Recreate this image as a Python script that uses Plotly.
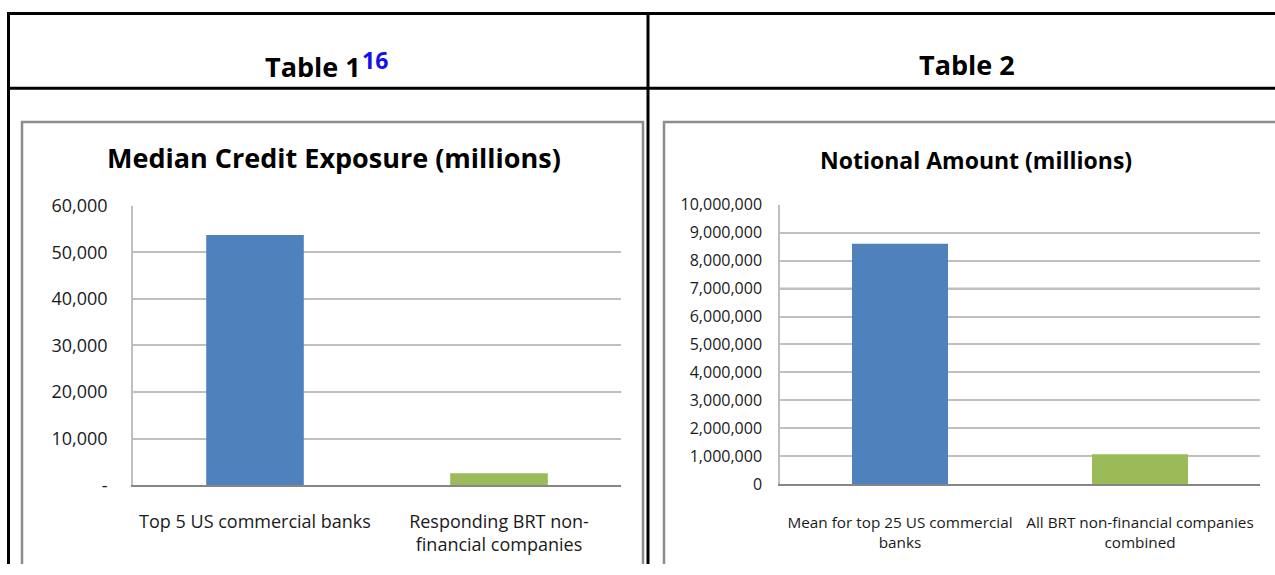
import plotly.graph_objects as go

# ---- data ----
left_categories = ["Top 5 US commercial banks", "Responding BRT non-<br>financial companies"]
left_values = [53700, 2600]
left_tickvals = [0, 10000, 20000, 30000, 40000, 50000, 60000]
left_ticktext = ["-", "10,000", "20,000", "30,000", "40,000", "50,000", "60,000"]

right_categories = ["Mean for top 25 US commercial<br>banks", "All BRT non-financial companies<br>combined"]
right_values = [8600000, 1070000]
right_tickvals = [0, 1000000, 2000000, 3000000, 4000000, 5000000, 6000000, 7000000, 8000000, 9000000, 10000000]
right_ticktext = ["0", "1,000,000", "2,000,000", "3,000,000", "4,000,000", "5,000,000",
                  "6,000,000", "7,000,000", "8,000,000", "9,000,000", "10,000,000"]

bar_colors = ["#4F81BD", "#9BBB59"]

W, H = 1275, 575
FONT = "'Open Sans', sans-serif"

# the photographed page maps figure y to screen y as  B + A*y  (measured)
A, B = 0.963, 11.4

def px(x):
    return x / W

def py(y):
    fy = (y - B) / A
    return 1 - fy / H

fig = go.Figure()

fig.add_trace(go.Bar(x=left_categories, y=left_values, marker=dict(color=bar_colors, line=dict(width=0)),
                     xaxis="x", yaxis="y", showlegend=False, hoverinfo="x+y"))
fig.add_trace(go.Bar(x=right_categories, y=right_values, marker=dict(color=bar_colors, line=dict(width=0)),
                     xaxis="x2", yaxis="y2", showlegend=False, hoverinfo="x+y"))

grid = "#BFBFBF"
axis_line = "#868686"
tick_left = dict(family=FONT, size=18, color="#1A1A1A")
cat_right = dict(family=FONT, size=15.3, color="#1A1A1A")
tick_right = dict(family=FONT, size=16, color="#1A1A1A")

fig.update_layout(
    width=W, height=H,
    margin=dict(l=0, r=0, t=0, b=0),
    paper_bgcolor="white", plot_bgcolor="white",
    bargap=0.6,
    font=dict(family=FONT),
    xaxis=dict(domain=[px(133), px(621)], anchor="y", showgrid=False, showline=True,
               linecolor=axis_line, linewidth=2, ticks="", tickfont=tick_left,
               ticklabelstandoff=19, fixedrange=True),
    yaxis=dict(domain=[py(486), py(205)], anchor="x", range=[0, 60000],
               tickvals=left_tickvals, ticktext=left_ticktext,
               showgrid=True, gridcolor=grid, gridwidth=1.5, showline=True,
               linecolor=grid, linewidth=1.5, zeroline=False, ticks="",
               tickfont=tick_left, ticklabelstandoff=20, fixedrange=True),
    xaxis2=dict(domain=[px(780), px(1260)], anchor="y2", showgrid=False, showline=True,
                linecolor=axis_line, linewidth=2, ticks="", tickfont=cat_right,
                ticklabelstandoff=23, fixedrange=True),
    yaxis2=dict(domain=[py(485), py(204)], anchor="x2", range=[0, 10000000],
                tickvals=right_tickvals, ticktext=right_ticktext,
                showgrid=True, gridcolor=grid, gridwidth=1.5, showline=True,
                linecolor=grid, linewidth=1.5, zeroline=False, ticks="",
                tickfont=tick_right, ticklabelstandoff=13, fixedrange=True),
)

shapes = []
black = "#000000"
shapes.append(dict(type="line", xref="paper", yref="paper", x0=px(7), x1=1, y0=py(12), y1=py(12),
                   line=dict(color=black, width=3), layer="above"))
shapes.append(dict(type="line", xref="paper", yref="paper", x0=px(7), x1=1, y0=py(87), y1=py(87),
                   line=dict(color=black, width=3), layer="above"))
shapes.append(dict(type="line", xref="paper", yref="paper", x0=px(8.5), x1=px(8.5), y0=py(11), y1=0,
                   line=dict(color=black, width=3), layer="above"))
shapes.append(dict(type="line", xref="paper", yref="paper", x0=px(648), x1=px(648), y0=py(11), y1=0,
                   line=dict(color=black, width=3), layer="above"))
box = "#8C8C8C"
shapes.append(dict(type="path", xref="paper", yref="paper",
                   path=f"M {px(22)},0 L {px(22)},{py(121)} L {px(643)},{py(121)} L {px(643)},0",
                   line=dict(color=box, width=2.5), layer="above"))
shapes.append(dict(type="path", xref="paper", yref="paper",
                   path=f"M {px(664)},0 L {px(664)},{py(121)} L 1,{py(121)}",
                   line=dict(color=box, width=2.5), layer="above"))
shapes.append(dict(type="line", xref="x2 domain", yref="y2", x0=0, x1=1, y0=right_tickvals[7], y1=right_tickvals[7],
                   line=dict(color="#7F7F7F", width=1.5), layer="below"))
fig.update_layout(shapes=shapes)

annotations = [
    dict(text="<b>Table 1</b>", x=px(363), y=py(65), xref="paper", yref="paper", showarrow=False,
         font=dict(family=FONT, size=27, color="black"), xanchor="right", yanchor="middle"),
    dict(text="<b>16</b>", x=px(360), y=py(59), xref="paper", yref="paper", showarrow=False,
         font=dict(family=FONT, size=23, color="#1010F0"), xanchor="left", yanchor="middle"),
    dict(text="<b>Table 2</b>", x=px(967), y=py(63.5), xref="paper", yref="paper", showarrow=False,
         font=dict(family=FONT, size=27, color="black"), xanchor="center", yanchor="middle"),
    dict(text="<b>Median Credit Exposure (millions)</b>", x=px(334), y=py(157), xref="paper", yref="paper",
         showarrow=False, font=dict(family=FONT, size=27, color="black"), xanchor="center", yanchor="middle"),
    dict(text="<b>Notional Amount (millions)</b>", x=px(976), y=py(159), xref="paper", yref="paper",
         showarrow=False, font=dict(family=FONT, size=23, color="black"), xanchor="center", yanchor="middle"),
]
fig.update_layout(annotations=annotations)

page_css = (
    "var s=document.createElement('style');"
    "s.textContent='html,body{margin:0;padding:0;overflow:hidden;}';"
    "document.head.appendChild(s);"
)
fig.write_html("out.html", config={"displayModeBar": False}, post_script=page_css)
